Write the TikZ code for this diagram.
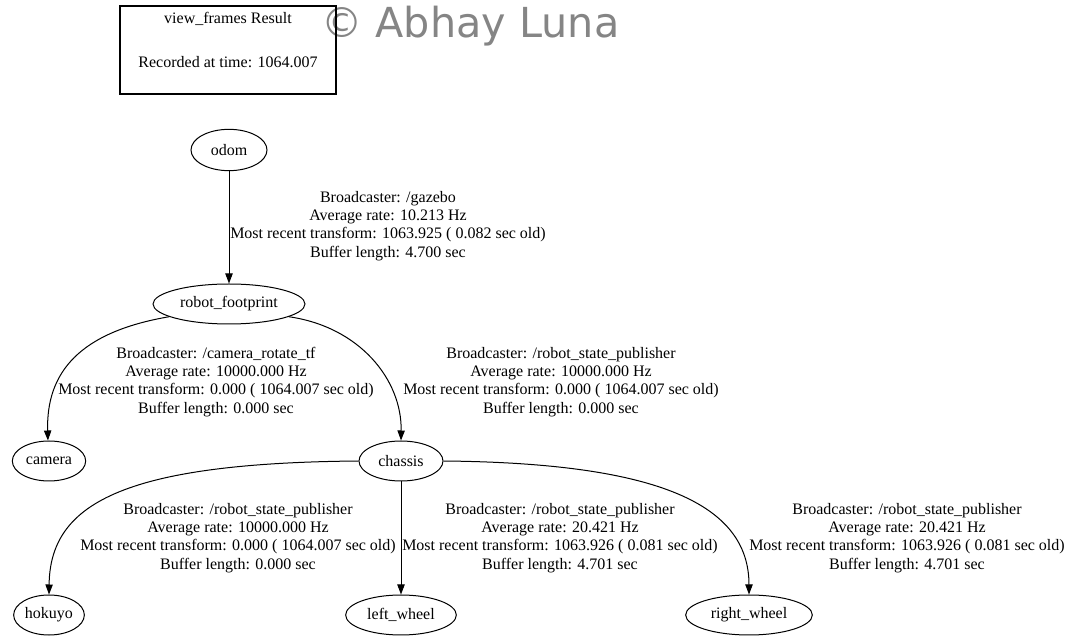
\documentclass[tikz,border=0pt]{standalone}
\usepackage{fontspec}
\setmainfont{Liberation Serif}
\newfontfamily\wmfont{DejaVu Sans}
\usetikzlibrary{shapes.geometric,arrows.meta}
\tikzset{
  frame/.style={ellipse,draw,line width=0.75pt,inner sep=0pt,minimum height=30pt,font=\fontsize{12}{13.3}\selectfont},
  lbl/.style={align=center,inner sep=0pt,font=\fontsize{12}{13.6}\selectfont},
  edge/.style={draw,line width=0.75pt,-{Triangle[length=7.5pt,width=5.5pt]}},
}
\begin{document}
\begin{tikzpicture}[x=0.75pt,y=-0.75pt]
\useasboundingbox (0,0) rectangle (1072,641);
\fill[white] (0,0) rectangle (1072,641);
% watermark
\node[text=black!48,font=\wmfont\fontsize{31}{34}\selectfont,inner sep=0pt,anchor=west] (wm) at (321,26) {© Abhay Luna};
% title box
\node[draw,line width=2.2pt,minimum width=162pt,minimum height=66pt,inner sep=0pt] (title) at (228,50) {};
\node[lbl] (t1) at (228,19) {view\_frames Result};
\node[lbl] (t2) at (228,62) {Recorded at time: 1064.007};
% nodes
\node[frame,minimum width=57pt,minimum height=31pt] (odom) at (229,150) {odom};
\node[frame,minimum width=114pt] (rf) at (229,304) {robot\_footprint};
\node[frame,minimum width=55pt] (camera) at (49,461) {camera};
\node[frame,minimum width=63pt] (chassis) at (401,461) {chassis};
\node[frame,minimum width=53pt] (hokuyo) at (49,615) {hokuyo};
\node[frame,minimum width=83pt] (lw) at (401,615) {left\_wheel};
\node[frame,minimum width=95pt] (rw) at (749,615) {right\_wheel};
% edges
\draw[edge] (odom) -- (rf);
\draw[edge] (rf.192) .. controls (80,332) and (46,372) .. (camera.93);
\draw[edge] (rf.-12) .. controls (360,327) and (402,380) .. (chassis.north);
\draw[edge] (chassis.west) .. controls (120,463) and (50,505) .. (hokuyo.north);
\draw[edge] (chassis) -- (lw);
\draw[edge] (chassis.east) .. controls (660,463) and (749,505) .. (rw.north);
% labels
\node[lbl] (l1) at (388,226) {Broadcaster: /gazebo\\Average rate: 10.213 Hz\\Most recent transform: 1063.925 ( 0.082 sec old)\\Buffer length: 4.700 sec};
\node[lbl] (l2) at (216,382) {Broadcaster: /camera\_rotate\_tf\\Average rate: 10000.000 Hz\\Most recent transform: 0.000 ( 1064.007 sec old)\\Buffer length: 0.000 sec};
\node[lbl] (l3) at (561,382) {Broadcaster: /robot\_state\_publisher\\Average rate: 10000.000 Hz\\Most recent transform: 0.000 ( 1064.007 sec old)\\Buffer length: 0.000 sec};
\node[lbl] (l4) at (238,538) {Broadcaster: /robot\_state\_publisher\\Average rate: 10000.000 Hz\\Most recent transform: 0.000 ( 1064.007 sec old)\\Buffer length: 0.000 sec};
\node[lbl] (l5) at (560,538) {Broadcaster: /robot\_state\_publisher\\Average rate: 20.421 Hz\\Most recent transform: 1063.926 ( 0.081 sec old)\\Buffer length: 4.701 sec};
\node[lbl] (l6) at (907,538) {Broadcaster: /robot\_state\_publisher\\Average rate: 20.421 Hz\\Most recent transform: 1063.926 ( 0.081 sec old)\\Buffer length: 4.701 sec};
\end{tikzpicture}
\end{document}
